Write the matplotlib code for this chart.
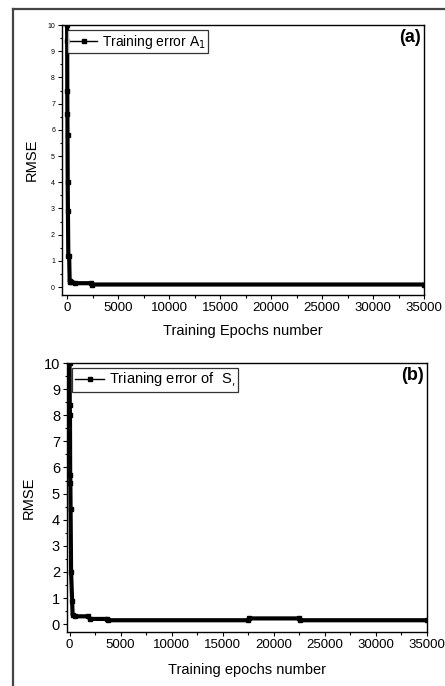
import matplotlib
matplotlib.use("Agg")
import matplotlib.pyplot as plt
from matplotlib.lines import Line2D
from matplotlib.ticker import MultipleLocator

plt.rcParams["font.family"] = ["Liberation Sans", "DejaVu Sans"]

# ------------------------------------------------------------------------------
#   Data
# ------------------------------------------------------------------------------

# (a) training error A1
epochs_a = [0, 10, 20, 30, 40, 60, 80, 120, 200, 250, 300, 400, 800, 2300, 2400, 35000]
rmse_a = [10.0, 9.4, 7.5, 6.6, 5.8, 4.0, 2.9, 1.2, 1.2, 0.25, 0.2, 0.2, 0.15, 0.15, 0.1, 0.1]

# (b) training error S
epochs_b = [0, 20, 40, 60, 80, 100, 150, 250, 300, 500, 1800, 2000, 3700, 3800,
            17500, 17600, 22500, 22600, 35000]
rmse_b = [10.0, 8.4, 8.0, 5.7, 5.4, 4.4, 2.0, 0.9, 0.35, 0.3, 0.3, 0.2, 0.2, 0.15,
          0.15, 0.22, 0.22, 0.15, 0.15]

xticks = [0, 5000, 10000, 15000, 20000, 25000, 30000, 35000]

# ------------------------------------------------------------------------------
#   Figure
# ------------------------------------------------------------------------------

fig = plt.figure(figsize=(4.45, 6.86), dpi=100)

# outer frame (left and top edges only are visible)
fx = 13 / 445
fy = 1 - 9 / 686
fig.add_artist(Line2D([fx, fx], [-0.01, fy], transform=fig.transFigure,
                      color="#444444", lw=1.6))
fig.add_artist(Line2D([fx, 1.01], [fy, fy], transform=fig.transFigure,
                      color="#444444", lw=1.6))

ax_a = fig.add_axes([62 / 445, 1 - 295 / 686, (424 - 62) / 445, (295 - 25) / 686])
ax_b = fig.add_axes([67 / 445, 1 - 632 / 686, (427 - 67) / 445, (632 - 363) / 686])

line_kw = {"color": "black", "marker": "s", "markersize": 3.5, "linewidth": 3}

ax_a.plot(epochs_a, rmse_a, label="Training error A$_1$", **line_kw)
ax_b.plot(epochs_b, rmse_b, label="Trianing error of  S$_{,}$", **line_kw)

ax_a.set_xlim(-500, 35000)
ax_b.set_xlim(-250, 35000)

for ax, ytick_fs, leg_fs in [(ax_a, 5, 10), (ax_b, 10.5, 10.5)]:
    ax.set_ylim(-0.3, 10)
    ax.set_xticks(xticks)
    ax.yaxis.set_major_locator(MultipleLocator(1))
    ax.yaxis.set_minor_locator(MultipleLocator(0.5))
    ax.xaxis.set_minor_locator(MultipleLocator(2500))
    ax.tick_params(which="major", direction="out", length=3, width=0.8)
    ax.tick_params(which="minor", direction="out", length=1.8, width=0.8)
    ax.tick_params(axis="x", labelsize=9.5, pad=2)
    ax.tick_params(axis="y", labelsize=ytick_fs, pad=2)
    for spine in ax.spines.values():
        spine.set_linewidth(1.0)
    ax.set_ylabel("RMSE", fontsize=10.5, labelpad=6)
    leg = ax.legend(loc="upper left", fontsize=leg_fs, frameon=True, fancybox=False,
                    handlelength=2.0, handletextpad=0.3, borderpad=0.2,
                    borderaxespad=0.35, markerscale=1.0)
    leg.get_frame().set_edgecolor("black")
    leg.get_frame().set_linewidth(0.9)
    for h in leg.legend_handles:
        h.set_linewidth(1)

ax_a.set_xlabel("Training Epochs number", fontsize=10.5, labelpad=7)
ax_b.set_xlabel("Training epochs number", fontsize=10.5, labelpad=9)

ax_a.text(0.99, 0.985, "(a)", transform=ax_a.transAxes, ha="right", va="top",
          fontsize=13, fontweight="bold")
ax_b.text(0.99, 0.985, "(b)", transform=ax_b.transAxes, ha="right", va="top",
          fontsize=13, fontweight="bold")

fig.savefig("out.png", dpi=100)
